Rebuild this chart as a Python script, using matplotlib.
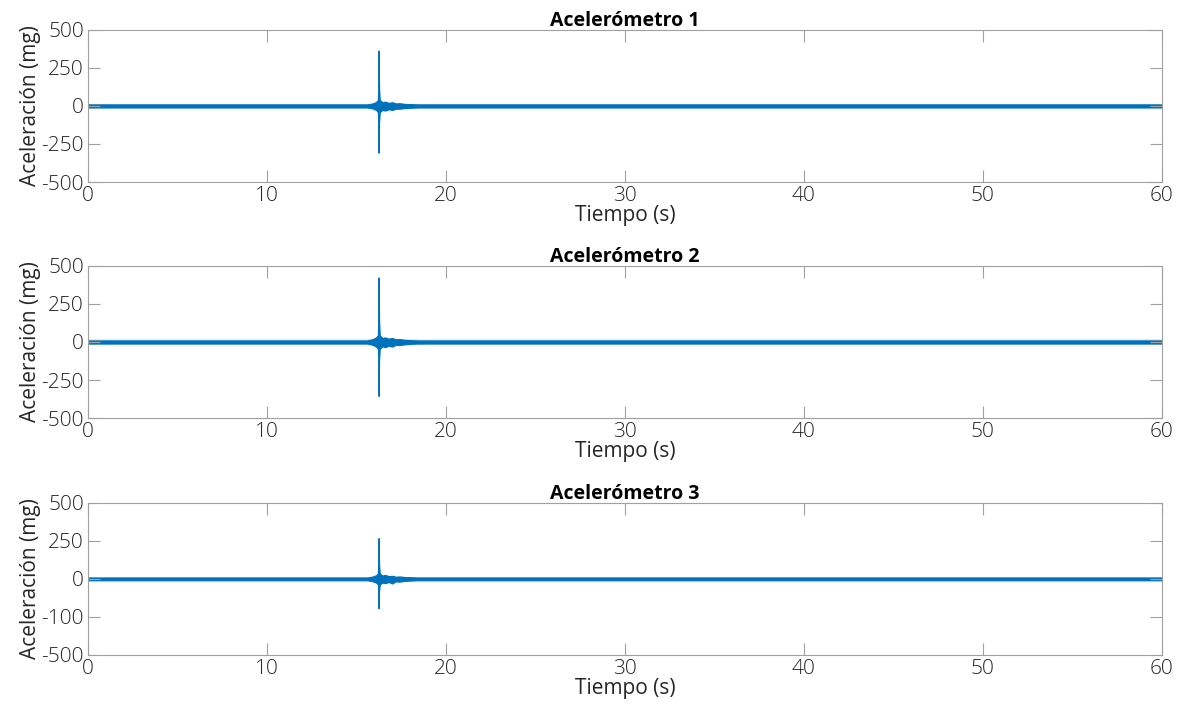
import numpy as np
import matplotlib.pyplot as plt

plt.rcParams['font.family'] = ['Open Sans', 'DejaVu Sans']
plt.rcParams['font.weight'] = 'light'

titles = ["Acelerómetro 1", "Acelerómetro 2", "Acelerómetro 3"]
ytick_vals = [-500, -250, 0, 250, 500]
ytick_labels = [
    ["-500", "-250", "0", "250", "500"],
    ["-500", "-250", "0", "250", "500"],
    ["-500", "-100", "0", "250", "500"],
]

# envelope knots (time in s, amplitude in mg)
env_t = [0, 15.6, 15.9, 16.1, 16.2, 16.22, 16.24, 16.26, 16.3, 16.45, 16.6,
         16.8, 17.0, 17.2, 17.4, 17.7, 18.0, 18.4, 60]
env_upper = [
    [10, 10, 16, 26, 40, 120, 364, 120, 40, 24, 28, 20, 24, 16, 18, 13, 12, 10, 10],
    [10, 10, 18, 30, 44, 150, 424, 150, 44, 26, 30, 22, 26, 17, 19, 14, 12, 10, 10],
    [9, 9, 15, 24, 36, 100, 268, 100, 36, 22, 26, 18, 20, 14, 16, 12, 11, 9, 9],
]
env_lower = [
    [-10, -10, -16, -26, -40, -110, -307, -110, -40, -26, -30, -22, -26, -18, -18, -14, -12, -10, -10],
    [-10, -10, -18, -30, -44, -120, -354, -120, -44, -28, -34, -24, -30, -18, -20, -15, -12, -10, -10],
    [-9, -9, -15, -24, -36, -80, -193, -80, -36, -24, -28, -20, -30, -16, -18, -13, -11, -9, -9],
]
# faint outer speckle band
speck = [16, 17, 15]

line_color = "#0072BD"
spine_color = "#A0A0A0"
text_color = "#262626"

fig = plt.figure(figsize=(11.84, 7.11), dpi=100)
bottoms = [0.744, 0.412, 0.0788]
for i in range(3):
    ax = fig.add_axes([0.0743, bottoms[i], 0.907, 0.214])
    ax.fill_between([0, 60], [-speck[i], -speck[i]], [speck[i], speck[i]],
                    color=line_color, alpha=0.15, lw=0)
    ax.fill_between(env_t, env_lower[i], env_upper[i], color=line_color,
                    edgecolor=line_color, lw=0.9)
    ax.set_xlim(0, 60)
    ax.set_ylim(-500, 500)
    ax.set_xticks([0, 10, 20, 30, 40, 50, 60])
    ax.set_yticks(ytick_vals)
    ax.set_yticklabels(ytick_labels[i])
    ax.tick_params(direction='in', length=8.5, width=0.8, colors=spine_color,
                   labelcolor=text_color, labelsize=15, top=True, right=True, pad=3)
    for s in ax.spines.values():
        s.set_color(spine_color)
        s.set_linewidth(0.8)
    ax.set_title(titles[i], fontsize=14, fontweight='bold', color='black', pad=3)
    ax.set_xlabel("Tiempo (s)", fontsize=15, color=text_color, labelpad=-1)
    ax.set_ylabel("Aceleración (mg)", fontsize=15, color=text_color, labelpad=0)

fig.savefig("out.png", dpi=100)
